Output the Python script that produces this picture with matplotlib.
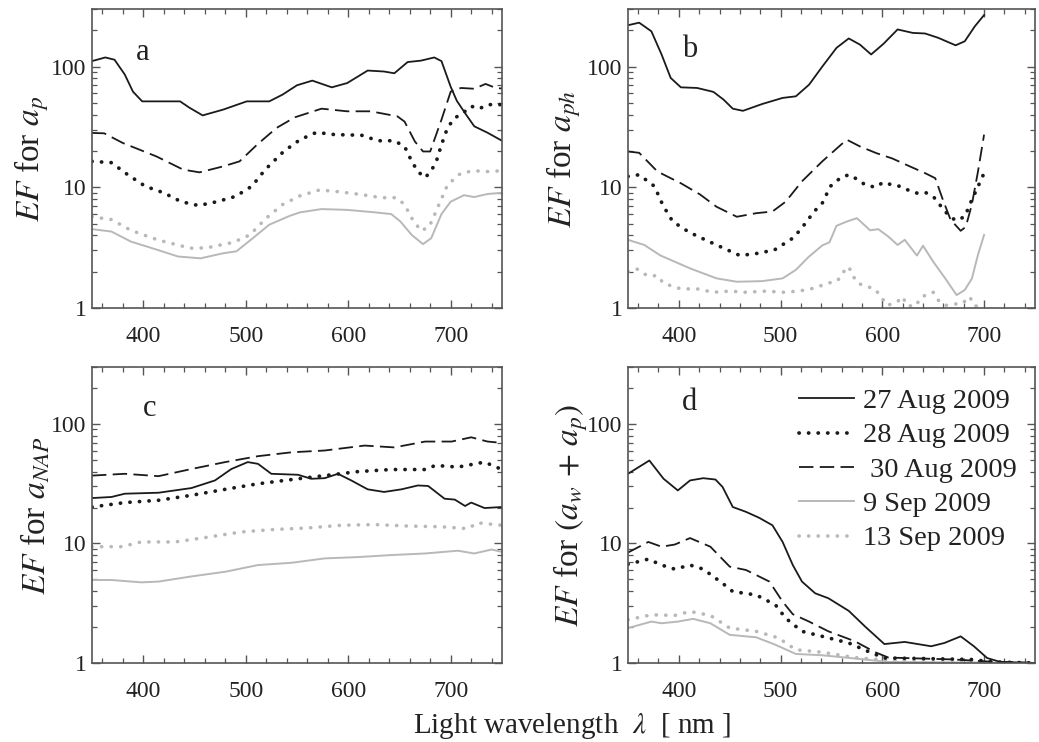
import matplotlib
matplotlib.use("Agg")
import matplotlib.pyplot as plt
from matplotlib.ticker import FixedLocator, FixedFormatter, MultipleLocator, LogLocator, NullFormatter

plt.rcParams['font.family'] = ['Liberation Serif', 'DejaVu Serif']
plt.rcParams['mathtext.fontset'] = 'stix'

# ---------------- data ----------------
dates = ["27 Aug 2009", "28 Aug 2009", " 30 Aug 2009", "9 Sep 2009", "13 Sep 2009"]

# panel a: EF for a_p
a_wl_27 = [350, 363, 372, 382, 390, 399, 413, 436, 445, 458, 478, 501, 523, 536, 550, 565, 584, 599, 619, 635, 645, 658, 671, 684, 691, 700, 706, 715, 723, 736, 750]
a_ef_27 = [111, 119, 114, 86, 62, 51.5, 51.5, 51.5, 45.7, 39.4, 44, 51.5, 51.5, 58.6, 70, 76.5, 67.3, 73, 92.7, 91, 88, 109, 112, 119, 111, 68, 52, 40, 32, 28.3, 24.3]
a_wl_28 = [350, 369, 385, 402, 420, 437, 454, 472, 490, 506, 519, 537, 553, 569, 587, 613, 629, 645, 655, 662, 668, 675, 681, 686, 691, 697, 704, 712, 720, 728, 736, 750]
a_ef_28 = [16.4, 16, 12.7, 10.2, 9, 7.6, 7.06, 7.6, 8.4, 10.2, 14, 19.8, 24.8, 28.5, 27.3, 27, 24.3, 24.3, 21.8, 16.4, 13.5, 12, 13.7, 16.4, 22.5, 31.3, 37.5, 41.3, 46.9, 44.8, 48.4, 48.4]
a_wl_30 = [350, 362, 380, 413, 439, 455, 478, 494, 511, 530, 548, 574, 599, 622, 648, 655, 665, 673, 680, 691, 700, 710, 723, 734, 745, 750]
a_ef_30 = [28.2, 28, 23.3, 18, 14, 13.3, 14.9, 16.4, 22.5, 31, 38, 44.8, 42.6, 42.6, 38.7, 35, 24, 19.8, 19.8, 36.3, 62, 66.5, 65.5, 71.8, 66, 66]
a_wl_09 = [350, 369, 388, 414, 434, 456, 478, 491, 507, 523, 543, 553, 574, 599, 626, 642, 651, 662, 673, 681, 691, 700, 713, 723, 736, 750]
a_ef_09 = [4.5, 4.3, 3.55, 3.03, 2.67, 2.58, 2.84, 2.95, 3.79, 4.9, 5.8, 6.2, 6.6, 6.5, 6.2, 6.0, 5.2, 4.03, 3.38, 3.79, 6.0, 7.6, 8.6, 8.3, 8.8, 9.0]
a_wl_13 = [350, 369, 388, 414, 446, 462, 488, 504, 520, 536, 553, 572, 590, 613, 632, 647, 655, 662, 671, 679, 687, 697, 710, 723, 736, 750]
a_ef_13 = [5.7, 5.4, 4.4, 3.67, 3.13, 3.15, 3.5, 4.03, 5.55, 7.2, 8.5, 9.5, 9.2, 8.7, 8.2, 8.2, 7.2, 5.55, 4.36, 4.7, 6.7, 10.5, 13.1, 13.7, 13.5, 13.7]

# panel b: EF for a_ph
b_wl_27 = [350, 361, 373, 383, 392, 402, 418, 434, 444, 453, 463, 482, 502, 515, 528, 541, 555, 567, 578, 589, 601, 615, 630, 642, 655, 672, 681, 691, 700]
b_ef_27 = [220, 231, 196, 126, 80.5, 67.3, 66.5, 61.7, 53.2, 44.8, 43, 49, 55, 56.7, 70.8, 100, 143, 171, 152, 126, 154, 203, 190, 188, 173, 150, 162, 216, 267]
b_wl_28 = [350, 361, 376, 384, 389, 394, 410, 426, 444, 460, 478, 494, 512, 520, 533, 541, 549, 559, 567, 575, 583, 593, 601, 609, 617, 627, 635, 643, 651, 658, 664, 672, 681, 688, 692, 700]
b_ef_28 = [12.3, 12.7, 10.2, 7.2, 6.1, 5.2, 4.25, 3.67, 3.13, 2.72, 2.84, 3.03, 3.79, 4.5, 6.3, 7.4, 10.2, 12, 12.7, 11.7, 10.5, 10, 11, 10.5, 10.2, 9.35, 8.9, 9, 8.2, 6.9, 6, 5.3, 5.7, 7.9, 9.3, 13.1]
b_wl_30 = [350, 361, 379, 402, 421, 437, 457, 476, 492, 505, 521, 541, 555, 565, 578, 594, 610, 627, 642, 652, 659, 667, 677, 682, 688, 694, 700]
b_ef_30 = [19.8, 19.3, 13.5, 10.8, 8.7, 6.9, 5.7, 6.1, 6.3, 7.6, 11.2, 16.4, 20.9, 24.8, 21.8, 19.2, 17.3, 14.9, 13.1, 11.9, 8.1, 5.4, 4.36, 4.7, 7.2, 13.5, 27.3]
b_wl_09 = [350, 366, 382, 411, 437, 457, 482, 502, 515, 528, 541, 548, 555, 565, 575, 588, 596, 606, 615, 622, 634, 640, 650, 662, 673, 681, 688, 694, 700]
b_ef_09 = [3.67, 3.33, 2.72, 2.13, 1.76, 1.65, 1.67, 1.76, 2.07, 2.67, 3.3, 3.5, 4.8, 5.2, 5.55, 4.4, 4.5, 3.9, 3.33, 3.67, 2.72, 3.28, 2.42, 1.75, 1.28, 1.41, 1.75, 2.76, 4.03]
b_wl_13 = [350, 359, 369, 379, 385, 402, 418, 434, 450, 466, 486, 502, 518, 533, 546, 556, 561, 567, 571, 576, 584, 593, 605, 615, 620, 624, 632, 639, 645, 650, 655, 662, 670, 678, 686, 690, 700]
b_ef_13 = [2.0, 2.1, 1.85, 1.85, 1.6, 1.44, 1.44, 1.35, 1.38, 1.35, 1.38, 1.35, 1.38, 1.46, 1.6, 1.68, 1.96, 2.2, 1.85, 1.6, 1.52, 1.43, 1.05, 1.13, 1.24, 1.05, 1.03, 1.24, 1.3, 1.35, 1.16, 1.05, 1.08, 1.08, 1.24, 1.05, 1.0]

# panel c: EF for a_NAP
c_wl_27 = [350, 369, 382, 415, 447, 470, 486, 502, 512, 525, 551, 564, 577, 590, 603, 619, 635, 652, 668, 678, 694, 704, 714, 720, 733, 750]
c_ef_27 = [24, 24.5, 26.1, 26.6, 29.1, 33.7, 42, 48, 46.4, 38.3, 37.6, 34.8, 35.2, 38.3, 33.7, 28.4, 27, 28.4, 30.6, 30.3, 23.7, 23.3, 20.6, 22, 19.8, 20.2]
c_wl_28 = [350, 382, 415, 447, 480, 512, 545, 577, 610, 642, 675, 685, 707, 733, 750]
c_ef_28 = [20.2, 22, 23, 25.3, 28.4, 31.6, 34.3, 37, 40, 41.6, 41.6, 45, 43.6, 48, 41.6]
c_wl_30 = [350, 382, 415, 447, 480, 512, 545, 577, 616, 645, 675, 701, 720, 736, 750]
c_ef_30 = [37, 38.3, 36.6, 42, 48, 53.8, 58, 60, 66, 63.7, 71.3, 71.3, 77.4, 71.3, 69.5]
c_wl_09 = [350, 369, 398, 415, 447, 480, 512, 545, 577, 610, 642, 675, 707, 723, 740, 750]
c_ef_09 = [4.95, 4.95, 4.73, 4.8, 5.3, 5.8, 6.6, 6.9, 7.5, 7.7, 8.0, 8.25, 8.7, 8.25, 8.9, 8.5]
c_wl_13 = [350, 379, 398, 431, 463, 496, 528, 561, 593, 626, 658, 691, 717, 726, 750]
c_ef_13 = [9.4, 9.4, 10.3, 10.3, 11.3, 12.5, 13.1, 13.5, 14.2, 14.4, 14, 13.8, 13.3, 14.9, 14.2]

# panel d: EF for (a_w + a_p)
d_wl_27 = [350, 371, 385, 399, 411, 424, 436, 443, 453, 466, 479, 492, 502, 512, 521, 534, 547, 567, 583, 602, 622, 648, 661, 677, 690, 703, 716, 750]
d_ef_27 = [38.3, 49.5, 34.8, 27.8, 33.7, 35.2, 34.3, 29.7, 20.2, 18.4, 16.4, 14.2, 10.3, 6.6, 4.8, 3.83, 3.48, 2.73, 2.02, 1.44, 1.5, 1.38, 1.47, 1.67, 1.38, 1.1, 1.02, 1.0]
d_wl_28 = [350, 370, 383, 396, 411, 424, 443, 453, 476, 495, 505, 521, 541, 567, 586, 602, 638, 687, 709, 750]
d_ef_28 = [6.7, 7.4, 6.6, 6.1, 6.6, 6.1, 4.64, 3.96, 3.71, 3.06, 2.37, 1.84, 1.67, 1.47, 1.25, 1.1, 1.09, 1.07, 1.02, 1.0]
d_wl_30 = [350, 370, 383, 396, 411, 431, 450, 466, 489, 502, 512, 528, 547, 573, 593, 606, 638, 670, 703, 750]
d_ef_30 = [8.4, 10.3, 9.4, 9.8, 11.1, 9.4, 6.4, 6.0, 4.8, 3.26, 2.56, 2.22, 1.84, 1.52, 1.23, 1.11, 1.09, 1.07, 1.03, 1.0]
d_wl_09 = [350, 373, 383, 399, 414, 431, 450, 476, 495, 515, 541, 573, 606, 750]
d_ef_09 = [1.96, 2.22, 2.15, 2.22, 2.34, 2.15, 1.72, 1.64, 1.42, 1.19, 1.16, 1.09, 1.02, 1.0]
d_wl_13 = [350, 373, 396, 411, 431, 450, 476, 498, 515, 541, 573, 606, 670, 750]
d_ef_13 = [2.3, 2.53, 2.5, 2.7, 2.5, 1.96, 1.84, 1.62, 1.29, 1.23, 1.11, 1.05, 1.02, 1.0]

panel_letters = ["a", "b", "c", "d"]
ylabels = [r"$EF$ for $a_p$", r"$EF$ for $a_{ph}$", r"$EF$ for $a_{NAP}$", r"$EF$ for $(a_w\,+\,a_p)$"]
xticks = [400, 500, 600, 700]
yticks = [1, 10, 100]
ytick_labels = ["1", "10", "100"]
xlabel = r"Light wavelength  $\lambda$  [ nm ]"

# ---------------- style ----------------
BLACK = "#1a1a1a"
GRAY = "#b8b8b8"
FRAME = "#555555"
TEXT = "#222222"
styles = [
    dict(color=BLACK, lw=1.3, ls="-"),
    dict(color=BLACK, lw=2.7, ls=(0, (0.05, 2.5)), dash_capstyle="round"),
    dict(color=BLACK, lw=1.3, ls=(0, (8, 3.5))),
    dict(color=GRAY, lw=1.4, ls="-"),
    dict(color=GRAY, lw=2.6, ls=(0, (0.05, 2.6)), dash_capstyle="round"),
]

fig = plt.figure(figsize=(10.39, 7.42), dpi=100)
rects = [
    [0.0885, 0.5849, 0.3946, 0.4030],
    [0.6044, 0.5849, 0.3917, 0.4030],
    [0.0885, 0.1065, 0.3946, 0.3989],
    [0.6044, 0.1065, 0.3917, 0.3989],
]
panels = [
    [(a_wl_27, a_ef_27), (a_wl_28, a_ef_28), (a_wl_30, a_ef_30), (a_wl_09, a_ef_09), (a_wl_13, a_ef_13)],
    [(b_wl_27, b_ef_27), (b_wl_28, b_ef_28), (b_wl_30, b_ef_30), (b_wl_09, b_ef_09), (b_wl_13, b_ef_13)],
    [(c_wl_27, c_ef_27), (c_wl_28, c_ef_28), (c_wl_30, c_ef_30), (c_wl_09, c_ef_09), (c_wl_13, c_ef_13)],
    [(d_wl_27, d_ef_27), (d_wl_28, d_ef_28), (d_wl_30, d_ef_30), (d_wl_09, d_ef_09), (d_wl_13, d_ef_13)],
]
letter_pos = [(0.124, 0.853), (0.152, 0.863), (0.141, 0.86), (0.152, 0.88)]
ylabel_x = [-0.10, -0.111, -0.098, -0.093]

draw_order = [3, 4, 2, 1, 0]
for i, rect in enumerate(rects):
    ax = fig.add_axes(rect)
    handles = {}
    for k in draw_order:
        wl, ef = panels[i][k]
        (ln,) = ax.plot(wl, ef, label=dates[k], **styles[k])
        handles[k] = ln
    ax.set_yscale("log")
    ax.set_xlim(350, 750)
    ax.set_ylim(1, 300)
    ax.xaxis.set_major_locator(FixedLocator(xticks))
    ax.xaxis.set_minor_locator(MultipleLocator(20))
    ax.yaxis.set_major_locator(FixedLocator(yticks))
    ax.yaxis.set_major_formatter(FixedFormatter(ytick_labels))
    ax.yaxis.set_minor_locator(LogLocator(base=10, subs=[2, 3, 4, 5, 6, 7, 8, 9]))
    ax.yaxis.set_minor_formatter(NullFormatter())
    ax.tick_params(which="both", direction="in", top=True, right=True, colors=FRAME,
                   labelcolor=TEXT, labelsize=17)
    ax.tick_params(which="major", length=6, width=1.0)
    ax.tick_params(which="minor", length=3.5, width=0.9)
    ax.tick_params(axis="x", pad=13)
    ax.tick_params(axis="y", pad=4)
    for s in ax.spines.values():
        s.set_color(FRAME)
        s.set_linewidth(1.2)
    ax.set_ylabel(ylabels[i], fontsize=24, color=TEXT)
    ax.yaxis.set_label_coords(ylabel_x[i], 0.5)
    ax.text(letter_pos[i][0], letter_pos[i][1], panel_letters[i], transform=ax.transAxes,
            fontsize=22, ha="center", va="center", color=TEXT)
    if i == 3:
        ax.legend([handles[k] for k in range(5)], dates, loc="upper left",
                  bbox_to_anchor=(0.42, 0.928), frameon=False, fontsize=20.4,
                  handlelength=1.95, handletextpad=0.3, labelspacing=0.3,
                  borderpad=0, borderaxespad=0, labelcolor=TEXT)

fig.text(0.551, 0.022, xlabel, fontsize=21, ha="center", va="center", color=TEXT)

fig.savefig("out.png", dpi=100)
